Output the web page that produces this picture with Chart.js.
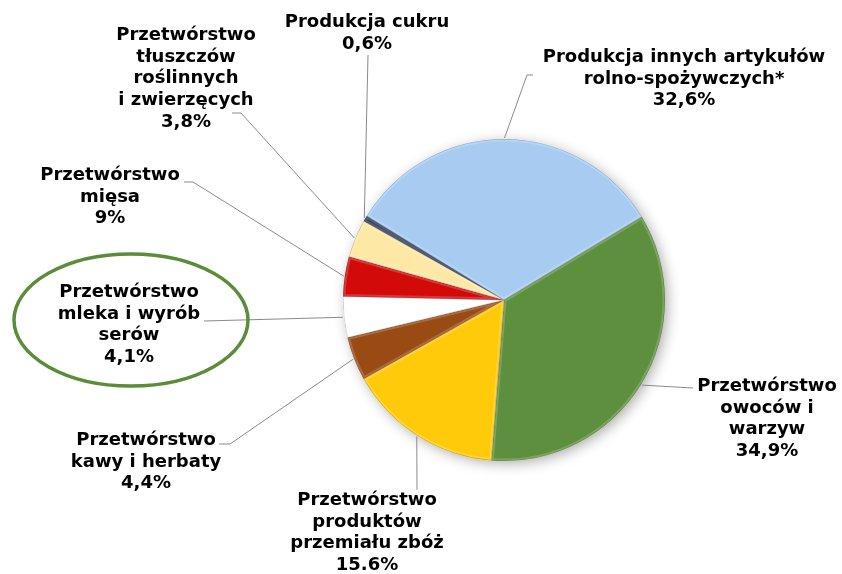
<!DOCTYPE html>
<html>
<head>
<meta charset="utf-8">
<script src="https://cdn.jsdelivr.net/npm/chart.js@4/dist/chart.umd.min.js"></script>
<style>
  html, body { margin: 0; padding: 0; background: #ffffff; }
  canvas { display: block; }
</style>
</head>
<body>
<canvas id="c" width="842" height="574"></canvas>
<script>
// ---- data ----
const categories = [
  'Produkcja innych artykułów rolno-spożywczych*',
  'Przetwórstwo owoców i warzyw',
  'Przetwórstwo produktów przemiału zbóż',
  'Przetwórstwo kawy i herbaty',
  'Przetwórstwo mleka i wyrób serów',
  'Przetwórstwo mięsa',
  'Przetwórstwo tłuszczów roślinnych i zwierzęcych',
  'Produkcja cukru'
];
// slice sizes as drawn (the "mięsa" slice is drawn at about 4 % although labelled 9%)
const values = [32.6, 34.9, 15.6, 4.4, 4.1, 4.0, 3.8, 0.6];
// label texts exactly as printed on the chart
const labelLines = [
  ['Produkcja innych artykułów', 'rolno-spożywczych*'],
  ['Przetwórstwo', 'owoców i', 'warzyw'],
  ['Przetwórstwo', 'produktów', 'przemiału zbóż'],
  ['Przetwórstwo', 'kawy i herbaty'],
  ['Przetwórstwo', 'mleka i wyrób', 'serów'],
  ['Przetwórstwo', 'mięsa'],
  ['Przetwórstwo', 'tłuszczów', 'roślinnych', 'i zwierzęcych'],
  ['Produkcja cukru']
];
const percentLabels = ['32,6%', '34,9%', '15.6%', '4,4%', '4,1%', '9%', '3,8%', '0,6%'];

// ---- styling / layout (not data) ----
const colors = ['#a7cbf1', '#5e8f3e', '#ffca0a', '#9a4b14', '#ffffff', '#d20a0a', '#fde8a6', '#2b3a58'];
const labelPos = [ // centre x, first baseline y
  {x: 684, y: 62}, {x: 767, y: 391}, {x: 367, y: 505}, {x: 146, y: 445},
  {x: 129, y: 297}, {x: 110, y: 180}, {x: 186, y: 40}, {x: 367, y: 27}
];
const leaderStart = [ // points of the leader line near the label, pie edge is appended
  [[533, 75], [527, 75]], [[693, 388]], [[417, 490]], [[219, 444], [230, 444]],
  [[204, 321]], [[184, 182], [193, 182]], [[232, 113], [241, 113]], [[368, 55]]
];
const LINE_H = 21.7;
const FONT = 'bold 18px "DejaVu Sans", Verdana, sans-serif';

const decorPlugin = {
  id: 'decor',
  beforeDatasetsDraw(chart) {
    const arc = chart.getDatasetMeta(0).data[0];
    if (!arc) return;
    const ctx = chart.ctx;
    ctx.save();
    ctx.shadowColor = 'rgba(0,0,0,0.35)';
    ctx.shadowBlur = 14;
    ctx.shadowOffsetX = 3;
    ctx.shadowOffsetY = 3;
    ctx.fillStyle = '#ffffff';
    ctx.beginPath();
    ctx.arc(arc.x, arc.y, arc.outerRadius - 1, 0, Math.PI * 2);
    ctx.fill();
    ctx.restore();
  },
  afterDatasetsDraw(chart) {
    const ctx = chart.ctx;
    const meta = chart.getDatasetMeta(0);
    // soft bevel-like highlight on each slice
    meta.data.forEach((a) => {
      ctx.save();
      ctx.beginPath();
      ctx.moveTo(a.x, a.y);
      ctx.arc(a.x, a.y, a.outerRadius, a.startAngle, a.endAngle);
      ctx.closePath();
      ctx.clip();
      ctx.lineWidth = 5;
      ctx.strokeStyle = 'rgba(255,255,255,0.18)';
      ctx.stroke();
      ctx.lineWidth = 1;
      ctx.strokeStyle = 'rgba(0,0,0,0.2)';
      ctx.stroke();
      ctx.restore();
    });
    // leader lines
    ctx.save();
    ctx.strokeStyle = '#8a8a8a';
    ctx.lineWidth = 1;
    meta.data.forEach((a, i) => {
      const mid = (a.startAngle + a.endAngle) / 2;
      const ex = a.x + Math.cos(mid) * (a.outerRadius + 1);
      const ey = a.y + Math.sin(mid) * (a.outerRadius + 1);
      const pts = leaderStart[i];
      ctx.beginPath();
      ctx.moveTo(pts[0][0], pts[0][1]);
      for (let k = 1; k < pts.length; k++) ctx.lineTo(pts[k][0], pts[k][1]);
      ctx.lineTo(ex, ey);
      ctx.stroke();
    });
    ctx.restore();
    // labels
    ctx.save();
    ctx.font = FONT;
    ctx.fillStyle = '#000000';
    ctx.textAlign = 'center';
    ctx.textBaseline = 'alphabetic';
    labelLines.forEach((lines, i) => {
      const all = lines.concat([percentLabels[i]]);
      all.forEach((t, k) => {
        ctx.fillText(t, labelPos[i].x, labelPos[i].y + k * LINE_H);
      });
    });
    ctx.restore();
    // green ellipse around the dairy label
    ctx.save();
    ctx.strokeStyle = '#5b8c3a';
    ctx.lineWidth = 3.5;
    ctx.beginPath();
    ctx.ellipse(131, 320, 117, 66, 0, 0, Math.PI * 2);
    ctx.stroke();
    ctx.restore();
  }
};

new Chart(document.getElementById('c'), {
  type: 'pie',
  data: {
    labels: categories,
    datasets: [{
      data: values,
      backgroundColor: colors,
      borderWidth: 0,
      rotation: -58.5
    }]
  },
  options: {
    responsive: false,
    animation: false,
    devicePixelRatio: 1,
    layout: { padding: { left: 343, right: 177, top: 139, bottom: 113 } },
    plugins: {
      legend: { display: false },
      tooltip: { enabled: false }
    }
  },
  plugins: [decorPlugin]
});
</script>
</body>
</html>
